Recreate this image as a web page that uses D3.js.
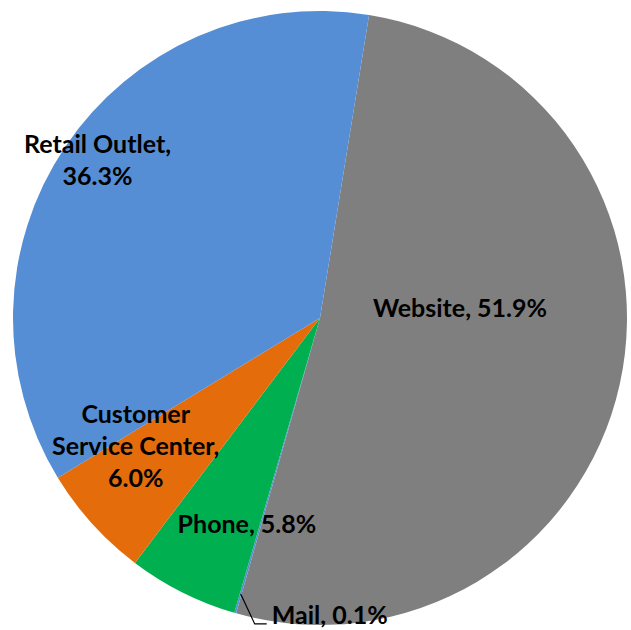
<!DOCTYPE html>
<html>
<head>
<meta charset="utf-8">
<script src="https://cdn.jsdelivr.net/npm/d3@7"></script>
<style>
  html, body { margin: 0; padding: 0; background: #fff; }
  svg { display: block; }
</style>
</head>
<body>
<div id="chart"></div>
<script>
// order is clockwise from the top
const channels = ["Website", "Mail", "Phone", "Customer Service Center", "Retail Outlet"];
const shares = [51.9, 0.1, 5.8, 6.0, 36.3];
const labelLines = [
  ["Website, 51.9%"],
  ["Mail, 0.1%"],
  ["Phone, 5.8%"],
  ["Customer", "Service Center,", "6.0%"],
  ["Retail Outlet,", "36.3%"]
];
const colors = ["#7f7f7f", "#558ed5", "#00b050", "#e46c0a", "#558ed5"];

const width = 631, height = 630;
const cx = 320, cy = 318, radius = 307;
const startDeg = 9.2;

// label placement (angle in deg from top, radius as fraction)
const labelAngle = [86.1, null, 199.5, 235.1, 305.3];
const labelRadius = [0.457, null, 0.713, 0.732, 0.888];

const svg = d3.select("#chart")
  .append("svg")
  .attr("width", width)
  .attr("height", height);

const g = svg.append("g").attr("transform", `translate(${cx},${cy})`);

const pie = d3.pie()
  .sort(null)
  .value(d => d)
  .startAngle(startDeg * Math.PI / 180)
  .endAngle(startDeg * Math.PI / 180 + 2 * Math.PI);

const arcs = pie(shares);
const arc = d3.arc().innerRadius(0).outerRadius(radius);

g.selectAll("path.slice")
  .data(arcs)
  .enter()
  .append("path")
  .attr("class", "slice")
  .attr("d", arc)
  .attr("fill", (_, i) => colors[i]);

const lineH = 32, capH = 17;
const polar = (deg, r) => {
  const a = deg * Math.PI / 180;
  return [r * Math.sin(a), -r * Math.cos(a)];
};

arcs.forEach((d, i) => {
  if (labelAngle[i] === null) return;
  const [x, y] = polar(labelAngle[i], labelRadius[i] * radius);
  const lines = labelLines[i];
  const t = g.append("text")
    .attr("text-anchor", "middle")
    .attr("font-family", "Lato, 'Open Sans', sans-serif")
    .attr("font-weight", "bold")
    .attr("font-size", 25)
    .attr("fill", "#000");
  lines.forEach((ln, j) => {
    t.append("tspan")
      .attr("x", x)
      .attr("y", y + (j - (lines.length - 1) / 2) * lineH + capH / 2)
      .text(ln);
  });
});

// Mail: leader line from inside the thin slice to the label below
const mail = arcs[1];
const mid = (mail.startAngle + mail.endAngle) / 2 * 180 / Math.PI;
const [lx, ly] = polar(mid, radius * 0.935);
const corner = [lx + 14, ly + 30];
const lend = [corner[0] + 12, corner[1]];
g.append("path")
  .attr("d", d3.line()([[lx, ly], corner, lend]))
  .attr("fill", "none")
  .attr("stroke", "#000")
  .attr("stroke-width", 1.2);
g.append("text")
  .attr("x", lend[0] + 5)
  .attr("y", lend[1])
  .attr("font-family", "Lato, 'Open Sans', sans-serif")
  .attr("font-weight", "bold")
  .attr("font-size", 25)
  .attr("fill", "#000")
  .text(labelLines[1][0]);
</script>
</body>
</html>
